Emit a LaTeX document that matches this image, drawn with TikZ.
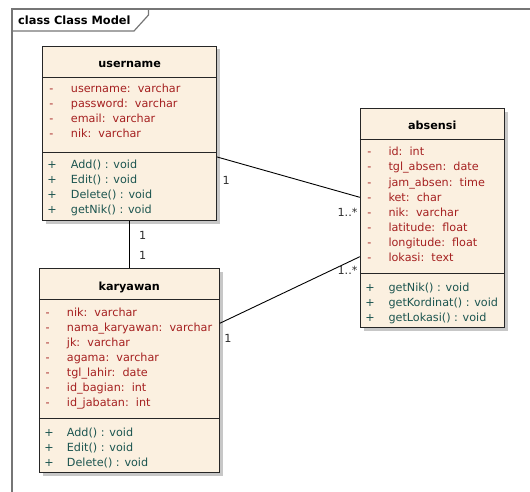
\documentclass[tikz,border=0pt]{standalone}
\usepackage{fontspec}
\setmainfont{DejaVu Sans}
\usetikzlibrary{shadows}

\definecolor{boxfill}{RGB}{251,240,224}
\definecolor{attrcol}{RGB}{165,32,32}
\definecolor{opcol}{RGB}{28,85,80}
\definecolor{framecol}{RGB}{118,118,118}
\definecolor{labelcol}{RGB}{45,45,45}

\begin{document}
\begin{tikzpicture}[x=1pt,y=-1pt,
  classbox/.style={draw=black!85, line width=0.95pt, fill=boxfill, inner sep=0pt,
    drop shadow={shadow xshift=3.5pt, shadow yshift=-3.5pt, fill=black!22, opacity=1}},
  divider/.style={draw=black!85, line width=0.95pt},
  txt/.style={inner sep=0pt, font=\fontsize{11.2}{13}\selectfont},
  classtitle/.style={txt, anchor=base, font=\fontsize{11.2}{13}\selectfont\bfseries},
  attrmark/.style={txt, anchor=base, text=attrcol},
  attrtext/.style={txt, anchor=base west, text=attrcol},
  opmark/.style={txt, anchor=base, text=opcol},
  optext/.style={txt, anchor=base west, text=opcol},
  mult/.style={txt, anchor=center, text=labelcol},
  assoc/.style={draw=black, line width=0.9pt}
]
\useasboundingbox (0,0) rectangle (530,492);

% diagram frame and its name tab
\draw[framecol, line width=1.5pt] (12,492) -- (12,9) -- (530,9);
\draw[framecol, line width=1.2pt] (148.5,9) -- (148.5,15) -- (134,31) -- (12,31);
\node[txt, anchor=west, font=\fontsize{11.4}{13}\selectfont\bfseries] (frame-title) at (18,20) {class Class Model};

% ---------- class: username ----------
\node[classbox, minimum width=174pt, minimum height=174.7pt] (username) at (129.7,133.35) {};
\draw[divider] (username.west |- 0,77) -- (username.east |- 0,77);
\draw[divider] (username.west |- 0,152) -- (username.east |- 0,152);
\node[classtitle] (username-t) at (129.7,67.3) {username};
\foreach \t [count=\i from 0] in {username:~~varchar, password:~~varchar, email:~~varchar, nik:~~varchar}{
  \node[attrmark] (ua-m\i) at (51.5,93+15*\i) {-};
  \node[attrtext] (ua-\i) at (70.7,93+15*\i) {\t};
}
\foreach \t [count=\i from 0] in {Add() : void, Edit() : void, Delete() : void, getNik() : void}{
  \node[opmark] (uo-m\i) at (52,168+15*\i) {+};
  \node[optext] (uo-\i) at (70.7,168+15*\i) {\t};
}

% ---------- class: karyawan ----------
\node[classbox, minimum width=180pt, minimum height=204pt] (karyawan) at (129.3,370.3) {};
\draw[divider] (karyawan.west |- 0,299) -- (karyawan.east |- 0,299);
\draw[divider] (karyawan.west |- 0,418.7) -- (karyawan.east |- 0,418.7);
\node[classtitle] (karyawan-t) at (129.3,290.7) {karyawan};
\foreach \t [count=\i from 0] in {nik:~~varchar, nama\_karyawan:~~varchar, jk:~~varchar, agama:~~varchar, tgl\_lahir:~~date, id\_bagian:~~int, id\_jabatan:~~int}{
  \node[attrmark] (ka-m\i) at (47.7,316+15*\i) {-};
  \node[attrtext] (ka-\i) at (66.7,316+15*\i) {\t};
}
\foreach \t [count=\i from 0] in {Add() : void, Edit() : void, Delete() : void}{
  \node[opmark] (ko-m\i) at (49,436+15*\i) {+};
  \node[optext] (ko-\i) at (66.7,436+15*\i) {\t};
}

% ---------- class: absensi ----------
\node[classbox, minimum width=144pt, minimum height=219pt] (absensi) at (432.3,217.8) {};
\draw[divider] (absensi.west |- 0,139.3) -- (absensi.east |- 0,139.3);
\draw[divider] (absensi.west |- 0,273.3) -- (absensi.east |- 0,273.3);
\node[classtitle] (absensi-t) at (432.3,129.3) {absensi};
\foreach \t [count=\i from 0] in {id:~~int, tgl\_absen:~~date, jam\_absen:~~time, ket:~~char, nik:~~varchar, latitude:~~float, longitude:~~float, lokasi:~~text}{
  \node[attrmark] (aa-m\i) at (369.5,156+15*\i) {-};
  \node[attrtext] (aa-\i) at (388.3,156+15*\i) {\t};
}
\foreach \t [count=\i from 0] in {getNik() : void, getKordinat() : void, getLokasi() : void}{
  \node[opmark] (ao-m\i) at (370,291.3+15*\i) {+};
  \node[optext] (ao-\i) at (388.3,291.3+15*\i) {\t};
}

% ---------- associations ----------
\draw[assoc] (username.east |- 0,157) -- (absensi.west |- 0,197.3);
\draw[assoc] (username.south -| 129.5,0) -- (karyawan.north -| 129.5,0);
\draw[assoc] (karyawan.east |- 0,323.3) -- (absensi.west |- 0,256.7);

% multiplicities
\node[mult] (m-ua-1) at (226.3,180.3) {1};
\node[mult] (m-ua-2) at (347.5,212.5) {1..*};
\node[mult] (m-uk-1) at (142.7,235.7) {1};
\node[mult] (m-uk-2) at (142.7,255) {1};
\node[mult] (m-ka-1) at (228,338.3) {1};
\node[mult] (m-ka-2) at (347.5,270.5) {1..*};
\end{tikzpicture}
\end{document}
